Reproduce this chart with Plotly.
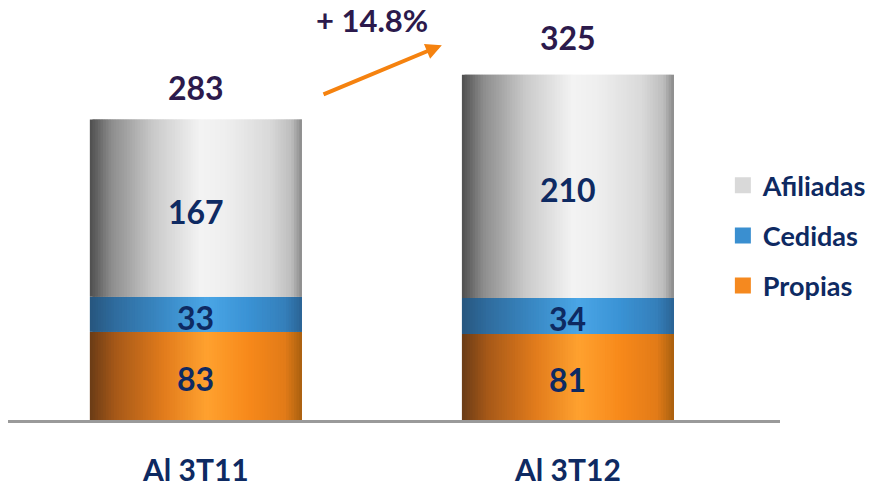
import plotly.graph_objects as go


# ── DATA ─────────────────────────────────────────────────────────────────────
categories = ["Al 3T11", "Al 3T12"]
propias    = [83, 81]
cedidas    = [33, 34]
afiliadas  = [167, 210]
totals     = [283, 325]
growth_label = "+ 14.8%"

# ── STYLE ────────────────────────────────────────────────────────────────────
FONT = "Lato"
NAVY = "#0e2a62"
PURPLE = "#2c1a4c"
ARROW = "#f5820f"

# horizontal gradient stops (position across bar, colour) – cylinder look
GRAD = {
    "Afiliadas": [(0, "#4e4e4e"), (0.1, "#8c8c8c"), (0.3, "#cacaca"), (0.52, "#f3f3f3"),
                  (0.65, "#eeeeee"), (0.85, "#d9d9d9"), (0.95, "#bdbdbd"), (1, "#8a8a8a")],
    "Cedidas":   [(0, "#27567e"), (0.12, "#2f6c9e"), (0.35, "#3a8ac6"), (0.55, "#4aa6e6"),
                  (0.75, "#3a92d4"), (0.92, "#357fba"), (1, "#2a6394")],
    "Propias":   [(0, "#6a3c16"), (0.12, "#a65818"), (0.35, "#e27c1c"), (0.55, "#ffa12f"),
                  (0.75, "#f7891a"), (0.92, "#e27b18"), (1, "#a8600f")],
}
LEGEND_COLOR = {"Afiliadas": "#d9d9d9", "Cedidas": "#3a8fd0", "Propias": "#f5891f"}

BAR_W = 0.57
N_STRIPS = 80


def hex_to_rgb(h):
    h = h.lstrip("#")
    return tuple(int(h[i:i + 2], 16) for i in (0, 2, 4))


def grad_color(stops, t):
    for (p0, c0), (p1, c1) in zip(stops, stops[1:]):
        if p0 <= t <= p1:
            f = (t - p0) / (p1 - p0) if p1 > p0 else 0
            a, b = hex_to_rgb(c0), hex_to_rgb(c1)
            r, g, bl = (round(a[k] + (b[k] - a[k]) * f) for k in range(3))
            return f"rgb({r},{g},{bl})"
    return stops[-1][1]


series = [
    ("Propias", propias),
    ("Cedidas", cedidas),
    ("Afiliadas", afiliadas),
]

fig = go.Figure()

# stacked segments drawn as thin overlaid strips to get the shaded look
bases = [0] * len(categories)
for name, vals in series:
    step = BAR_W / N_STRIPS
    for i in range(N_STRIPS):
        t = (i + 0.5) / N_STRIPS
        w = step * 2 if i < N_STRIPS - 1 else step
        fig.add_trace(go.Bar(
            x=categories, y=vals, base=list(bases),
            offset=-BAR_W / 2 + i * step, width=w,
            marker=dict(color=grad_color(GRAD[name], t), line=dict(width=0)),
            showlegend=False, hoverinfo="skip",
        ))
    # value label in the middle of each segment
    for cat, b, v in zip(categories, bases, vals):
        fig.add_annotation(
            x=cat, y=b + v / 2, text=str(v), showarrow=False, yanchor="middle", yshift=-3,
            font=dict(family=FONT, size=32, color=NAVY, weight="bold"),
        )
    bases = [b + v for b, v in zip(bases, vals)]

# legend entries
for name in ["Afiliadas", "Cedidas", "Propias"]:
    fig.add_trace(go.Scatter(
        x=[None], y=[None], mode="markers", name=name, legendgroup=name,
        marker=dict(symbol="square", size=16, color=LEGEND_COLOR[name]),
    ))

# totals above bars
for cat, tot, shift in zip(categories, totals, [32, 37]):
    fig.add_annotation(
        x=cat, y=tot, text=str(tot), showarrow=False, yanchor="middle", yshift=shift,
        font=dict(family=FONT, size=32, color=PURPLE, weight="bold"),
    )

# growth arrow + label
fig.add_annotation(
    x=0.661, y=353, ax=0.339, ay=306, axref="x", ayref="y", xref="x", yref="y",
    text="", showarrow=True, arrowhead=2, arrowsize=0.8, arrowwidth=4, arrowcolor=ARROW,
)
fig.add_annotation(
    x=0.473, y=377, xref="x", yref="y", text=growth_label, showarrow=False,
    font=dict(family=FONT, size=31, color=PURPLE, weight="bold"),
)

fig.update_layout(
    width=879, height=490,
    barmode="overlay",
    paper_bgcolor="white", plot_bgcolor="white",
    margin=dict(l=8, r=99, t=0, b=70, autoexpand=False),
    font=dict(family=FONT, color=NAVY),
    legend=dict(
        x=0.926, y=0.616, xanchor="left", yanchor="top",
        font=dict(family=FONT, size=27, color=NAVY, weight="bold"),
        tracegroupgap=12, traceorder="grouped", itemwidth=30,
        bgcolor="rgba(0,0,0,0)",
    ),
)
fig.update_xaxes(
    range=[-0.505, 1.57], showgrid=False, zeroline=False,
    showline=True, linecolor="#9a9a9a", linewidth=3,
    ticks="", ticklabelstandoff=22, automargin=False,
    tickfont=dict(family=FONT, size=30, color=NAVY, weight="bold"),
)
fig.update_yaxes(range=[0, 395.5], visible=False, showgrid=False)

fig.write_html("out.html", config={"displayModeBar": False},
               post_script="document.body.style.margin='0';")
